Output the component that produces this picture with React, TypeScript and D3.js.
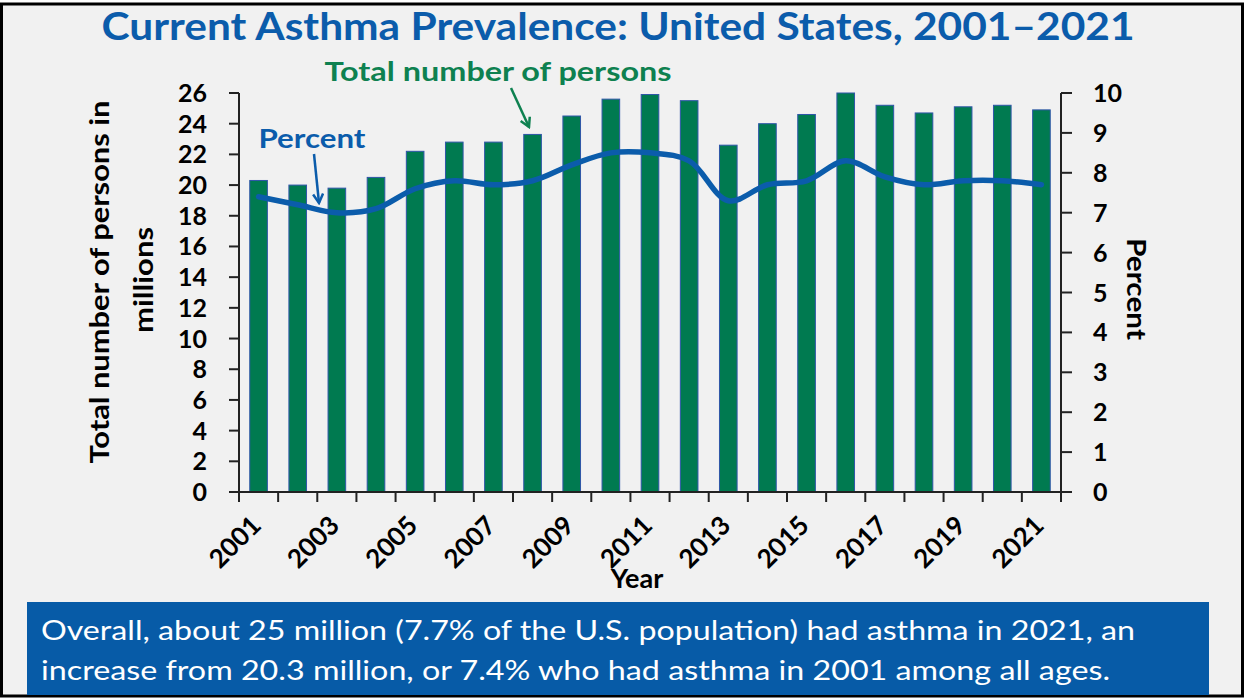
import React from "react";
import * as d3 from "d3";

// Current asthma prevalence, United States
const years = [
  "2001", "2002", "2003", "2004", "2005", "2006", "2007", "2008", "2009", "2010", "2011",
  "2012", "2013", "2014", "2015", "2016", "2017", "2018", "2019", "2020", "2021",
];
// Total number of persons with current asthma (millions)
const persons = [
  20.3, 20.0, 19.8, 20.5, 22.2, 22.8, 22.8, 23.3, 24.5, 25.6, 25.9,
  25.5, 22.6, 24.0, 24.6, 26.0, 25.2, 24.7, 25.1, 25.2, 24.9,
];
// Percent of population with current asthma
const percent = [
  7.4, 7.2, 7.0, 7.1, 7.6, 7.8, 7.7, 7.8, 8.2, 8.5, 8.5,
  8.3, 7.3, 7.7, 7.8, 8.3, 7.9, 7.7, 7.8, 7.8, 7.7,
];
const leftTicks = [0, 2, 4, 6, 8, 10, 12, 14, 16, 18, 20, 22, 24, 26];
const rightTicks = [0, 1, 2, 3, 4, 5, 6, 7, 8, 9, 10];
const labelledYears = ["2001", "2003", "2005", "2007", "2009", "2011", "2013", "2015", "2017", "2019", "2021"];

const W = 1249;
const H = 698;
const plot = { left: 239, right: 1061, top: 93, bottom: 492 };

const FONT = "Lato, 'Open Sans', 'DejaVu Sans', sans-serif";
const BLUE = "#0b5cab";
const GREEN_BAR = "#007a50";
const GREEN_TEXT = "#0e8150";

export default function App() {
  const x = d3
    .scaleBand<string>()
    .domain(years)
    .range([plot.left, plot.right])
    .paddingInner(0.55)
    .paddingOuter(0.275);
  const yLeft = d3.scaleLinear().domain([0, 26]).range([plot.bottom, plot.top]);
  const yRight = d3.scaleLinear().domain([0, 10]).range([plot.bottom, plot.top]);
  const step = x.step();
  const center = (yr: string) => (x(yr) ?? 0) + x.bandwidth() / 2;

  const line = d3
    .line<number>()
    .x((_, i) => center(years[i]))
    .y((d) => yRight(d))
    .curve(d3.curveCatmullRom.alpha(0.5));

  const boundaries = d3.range(years.length + 1).map((i) => plot.left + i * step);

  return (
    <svg
      width={W}
      height={H}
      style={{ position: "absolute", left: 0, top: 0, background: "#ffffff" }}
      fontFamily={FONT}
    >
      <defs>
        <marker id="arrowGreen" viewBox="0 0 12 12" refX="10" refY="6" markerWidth="12" markerHeight="12" orient="auto" markerUnits="userSpaceOnUse">
          <path d="M1,1 L10,6 L1,11" fill="none" stroke={GREEN_TEXT} strokeWidth={2.5} />
        </marker>
        <marker id="arrowBlue" viewBox="0 0 12 12" refX="10" refY="6" markerWidth="12" markerHeight="12" orient="auto" markerUnits="userSpaceOnUse">
          <path d="M1,1 L10,6 L1,11" fill="none" stroke={BLUE} strokeWidth={2.5} />
        </marker>
      </defs>

      {/* slide frame */}
      <rect x={1.5} y={4} width={1241} height={692} fill="#f1f1f1" stroke="#000" strokeWidth={3} />

      {/* title */}
      <text
        x={618}
        y={40}
        textAnchor="middle"
        fontSize={38}
        fontWeight={700}
        fill={BLUE}
        textLength={1033}
        lengthAdjust="spacingAndGlyphs"
      >
        Current Asthma Prevalence: United States, 2001–2021
      </text>

      {/* bars */}
      {years.map((yr, i) => (
        <rect
          key={yr}
          x={x(yr)}
          y={yLeft(persons[i])}
          width={x.bandwidth()}
          height={yLeft(0) - yLeft(persons[i])}
          fill={GREEN_BAR}
          stroke="#2f56a8"
          strokeWidth={1}
        />
      ))}

      {/* percent line */}
      <path d={line(percent) ?? ""} fill="none" stroke={BLUE} strokeWidth={5.5} strokeLinejoin="round" strokeLinecap="round" />

      {/* left axis */}
      <line x1={plot.left} x2={plot.left} y1={plot.top} y2={plot.bottom + 10} stroke="#222" strokeWidth={2} />
      {leftTicks.map((t) => (
        <g key={`l${t}`}>
          <line x1={plot.left - 10} x2={plot.left} y1={yLeft(t)} y2={yLeft(t)} stroke="#222" strokeWidth={2} />
          <text x={207} y={yLeft(t)} dy="0.36em" textAnchor="end" fontSize={25} fontWeight={700} fill="#000">
            {t}
          </text>
        </g>
      ))}

      {/* right axis */}
      <line x1={plot.right} x2={plot.right} y1={plot.top} y2={plot.bottom + 10} stroke="#222" strokeWidth={2} />
      {rightTicks.map((t) => (
        <g key={`r${t}`}>
          <line x1={plot.right} x2={plot.right + 11} y1={yRight(t)} y2={yRight(t)} stroke="#222" strokeWidth={2} />
          <text x={1093} y={yRight(t)} dy="0.36em" textAnchor="start" fontSize={25} fontWeight={700} fill="#000">
            {t}
          </text>
        </g>
      ))}

      {/* x axis */}
      <line x1={plot.left - 10} x2={plot.right + 10} y1={plot.bottom} y2={plot.bottom} stroke="#222" strokeWidth={2} />
      {boundaries.map((bx, i) => (
        <line key={`xt${i}`} x1={bx} x2={bx} y1={plot.bottom} y2={plot.bottom + 10} stroke="#222" strokeWidth={2} />
      ))}
      {labelledYears.map((yr) => {
        const cx = center(yr) + 4;
        const cy = 527;
        return (
          <text
            key={`xl${yr}`}
            transform={`translate(${cx},${cy}) rotate(-45)`}
            textAnchor="end"
            fontSize={26}
            fontWeight={700}
            fill="#000"
          >
            {yr}
          </text>
        );
      })}
      <text x={637} y={588} textAnchor="middle" fontSize={27} fontWeight={700} fill="#000">
        Year
      </text>

      {/* axis titles */}
      <text transform="translate(109,282) rotate(-90)" textAnchor="middle" fontSize={26} fontWeight={700} fill="#000" textLength={363} lengthAdjust="spacingAndGlyphs">
        Total number of persons in
      </text>
      <text transform="translate(153,280) rotate(-90)" textAnchor="middle" fontSize={26} fontWeight={700} fill="#000" textLength={106} lengthAdjust="spacingAndGlyphs">
        millions
      </text>
      <text transform="translate(1127,289) rotate(90)" textAnchor="middle" fontSize={26} fontWeight={700} fill="#000" textLength={102} lengthAdjust="spacingAndGlyphs">
        Percent
      </text>

      {/* annotations */}
      <text x={498} y={81} textAnchor="middle" fontSize={26} fontWeight={700} fill={GREEN_TEXT} textLength={347} lengthAdjust="spacingAndGlyphs">
        Total number of persons
      </text>
      <line x1={511} y1={88} x2={529} y2={127} stroke={GREEN_TEXT} strokeWidth={2.5} markerEnd="url(#arrowGreen)" />
      <text x={312} y={148} textAnchor="middle" fontSize={26} fontWeight={700} fill={BLUE} textLength={107} lengthAdjust="spacingAndGlyphs">
        Percent
      </text>
      <line x1={314} y1={154} x2={319} y2={203} stroke={BLUE} strokeWidth={2.5} markerEnd="url(#arrowBlue)" />

      {/* summary box */}
      <rect x={27} y={602} width={1182} height={93} fill="#075ba7" />
      <text x={41} y={640} fontSize={26} fill="#fff" textLength={1094} lengthAdjust="spacingAndGlyphs">
        Overall, about 25 million (7.7% of the U.S. population) had asthma in 2021, an
      </text>
      <text x={41} y={680} fontSize={26} fill="#fff" textLength={1069} lengthAdjust="spacingAndGlyphs">
        increase from 20.3 million, or 7.4% who had asthma in 2001 among all ages.
      </text>
    </svg>
  );
}
